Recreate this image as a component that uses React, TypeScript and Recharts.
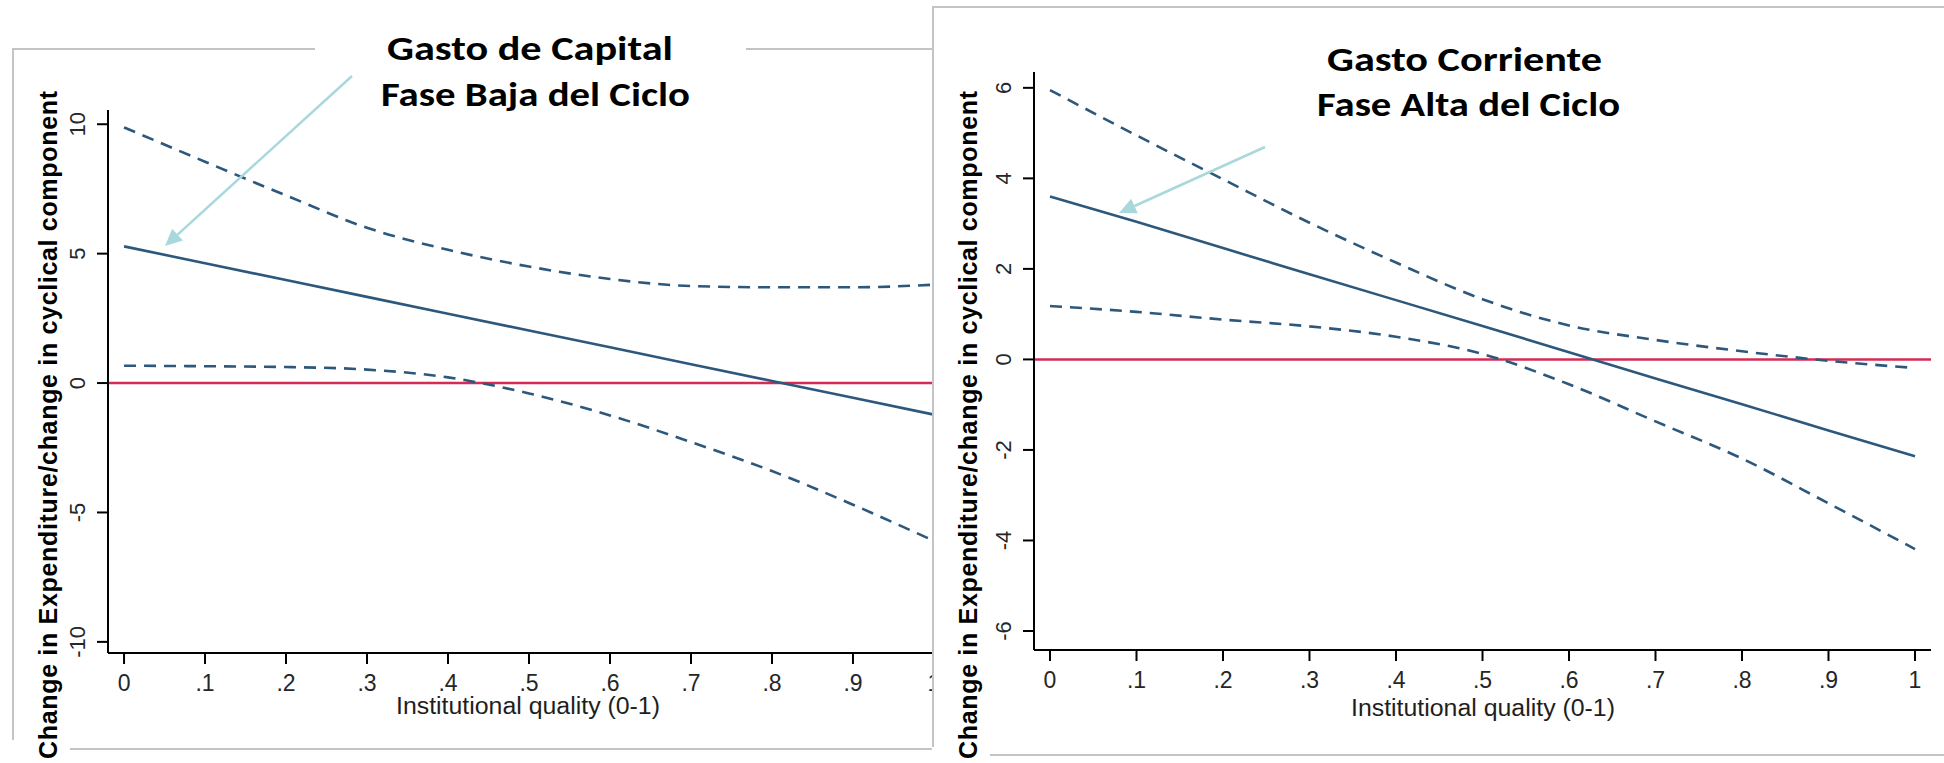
import React from "react";
import { LineChart, Line, XAxis, YAxis, ReferenceLine } from "recharts";

// institutional quality grid (x axis, 0-1)
const quality = [0, 0.1, 0.2, 0.3, 0.4, 0.5, 0.6, 0.7, 0.8, 0.9, 1];

// Gasto de Capital, fase baja del ciclo
const capitalFit = [5.28, 4.63, 3.98, 3.33, 2.68, 2.03, 1.38, 0.73, 0.08, -0.57, -1.22];
const capitalUpper = [9.88, 8.55, 7.25, 6.0, 5.15, 4.5, 4.02, 3.75, 3.7, 3.7, 3.8];
const capitalLower = [0.67, 0.65, 0.62, 0.52, 0.22, -0.4, -1.25, -2.28, -3.4, -4.7, -6.1];

// Gasto Corriente, fase alta del ciclo
const currentFit = [3.6, 3.04, 2.46, 1.88, 1.31, 0.74, 0.16, -0.42, -0.99, -1.57, -2.14];
const currentUpper = [5.95, 4.95, 3.98, 3.02, 2.14, 1.33, 0.75, 0.43, 0.18, -0.03, -0.19];
const currentLower = [1.18, 1.05, 0.88, 0.73, 0.5, 0.12, -0.55, -1.37, -2.19, -3.18, -4.19];

const qualityTicks = [0, 0.1, 0.2, 0.3, 0.4, 0.5, 0.6, 0.7, 0.8, 0.9, 1];
const capitalTicks = [-10, -5, 0, 5, 10];
const currentTicks = [-6, -4, -2, 0, 2, 4, 6];

const Y_TITLE = "Change in Expenditure/change in cyclical component";
const X_TITLE = "Institutional quality (0-1)";

const NAVY = "#2d587c";
const RED = "#d42b55";
const FRAME = "#c4c4c4";
const ARROW = "#a9d8dc";
const SANS = "'Liberation Sans', Arial, sans-serif";
const TITLE_FONT = "Carlito, Lato, 'Open Sans', sans-serif";

const capitalRows = quality.map((x, i) => ({ x, fit: capitalFit[i], hi: capitalUpper[i], lo: capitalLower[i] }));
const currentRows = quality.map((x, i) => ({ x, fit: currentFit[i], hi: currentUpper[i], lo: currentLower[i] }));

const fmtQuality = (v: number) => (v === 0 || v === 1 ? String(v) : String(v).replace(/^0/, ""));

function XTick(props: any) {
  const { x, y, payload } = props;
  return (
    <text x={x} y={y + 17} textAnchor="middle" dominantBaseline="central" fontSize={23} fill="#262626" fontFamily={SANS}>
      {fmtQuality(payload.value)}
    </text>
  );
}

function YTick(props: any) {
  const { x, y, payload } = props;
  const cx = x - 17;
  return (
    <text
      x={cx}
      y={y}
      transform={`rotate(-90 ${cx} ${y})`}
      textAnchor="middle"
      dominantBaseline="central"
      fontSize={22}
      fill="#262626"
      fontFamily={SANS}
    >
      {payload.value}
    </text>
  );
}

function Arrow({ x1, y1, x2, y2 }: { x1: number; y1: number; x2: number; y2: number }) {
  const a = Math.atan2(y2 - y1, x2 - x1);
  const bx = x2 - 17 * Math.cos(a);
  const by = y2 - 17 * Math.sin(a);
  const px = 8 * Math.sin(a);
  const py = -8 * Math.cos(a);
  return (
    <g>
      <line x1={x1} y1={y1} x2={bx} y2={by} stroke={ARROW} strokeWidth={2.5} />
      <polygon points={`${x2},${y2} ${bx + px},${by + py} ${bx - px},${by - py}`} fill={ARROW} />
    </g>
  );
}

function PanelText({ yTitle, xTitle, lines }: any) {
  return (
    <>
      <text
        x={yTitle.x}
        y={yTitle.y}
        transform={`rotate(-90 ${yTitle.x} ${yTitle.y})`}
        textAnchor="middle"
        dominantBaseline="central"
        fontSize={25}
        fontWeight={700}
        fontFamily={SANS}
        textLength={668}
        lengthAdjust="spacing"
        fill="#000"
      >
        {Y_TITLE}
      </text>
      <text x={xTitle.x} y={xTitle.y} textAnchor="middle" dominantBaseline="central" fontSize={23} fontFamily={SANS} fill="#1e1e1e" textLength={264} lengthAdjust="spacingAndGlyphs">
        {X_TITLE}
      </text>
      {lines.map((l: any) => (
        <text key={l.text} x={l.x} y={l.y} textAnchor="middle" fontSize={34} fontWeight={700} fontFamily={TITLE_FONT} textLength={l.w} lengthAdjust="spacingAndGlyphs" fill="#000">
          {l.text}
        </text>
      ))}
    </>
  );
}

function StataChart({ rows, width, height, margin, xDomain, yDomain, yTicks }: any) {
  return (
    <LineChart width={width} height={height} data={rows} margin={margin}>
      <XAxis
        type="number"
        dataKey="x"
        domain={xDomain}
        allowDataOverflow
        ticks={qualityTicks}
        interval={0}
        height={60}
        tickSize={11}
        tick={(p: any) => <XTick {...p} />}
        axisLine={{ stroke: "#000", strokeWidth: 2 }}
        tickLine={{ stroke: "#000", strokeWidth: 2 }}
      />
      <YAxis
        type="number"
        domain={yDomain}
        allowDataOverflow
        ticks={yTicks}
        interval={0}
        width={60}
        tickSize={11}
        tick={(p: any) => <YTick {...p} />}
        axisLine={{ stroke: "#000", strokeWidth: 2 }}
        tickLine={{ stroke: "#000", strokeWidth: 2 }}
      />
      <ReferenceLine y={0} stroke={RED} strokeWidth={2.5} />
      <Line type="monotone" dataKey="hi" stroke={NAVY} strokeWidth={2.6} strokeDasharray="12 8" dot={false} activeDot={false} isAnimationActive={false} />
      <Line type="linear" dataKey="fit" stroke={NAVY} strokeWidth={2.6} dot={false} activeDot={false} isAnimationActive={false} />
      <Line type="monotone" dataKey="lo" stroke={NAVY} strokeWidth={2.6} strokeDasharray="12 8" dot={false} activeDot={false} isAnimationActive={false} />
    </LineChart>
  );
}

export default function App() {
  return (
    <div style={{ position: "absolute", left: 0, top: 0, width: 1944, height: 763, background: "#fff", overflow: "hidden" }}>
      {/* left panel */}
      <svg width={960} height={763} style={{ position: "absolute", left: 0, top: 0 }}>
        <rect x={13} y={49} width={1000} height={700} fill="none" stroke={FRAME} strokeWidth={2} />
      </svg>
      <div style={{ position: "absolute", left: 0, top: 0 }}>
        <StataChart
          rows={capitalRows}
          width={960}
          height={763}
          margin={{ top: 110, right: 10, bottom: 50, left: 48 }}
          xDomain={[-0.0198, 1.0198]}
          yDomain={[-10.43, 10.55]}
          yTicks={capitalTicks}
        />
      </div>
      <svg width={960} height={763} style={{ position: "absolute", left: 0, top: 0 }}>
        <rect x={315} y={25} width={431} height={100} fill="#fff" />
        <rect x={5} y={740} width={65} height={23} fill="#fff" />
        <PanelText
          yTitle={{ x: 48, y: 425 }}
          xTitle={{ x: 528, y: 706 }}
          lines={[
            { text: "Gasto de Capital", x: 530, y: 60, w: 286 },
            { text: "Fase Baja del Ciclo", x: 535.5, y: 106, w: 309 },
          ]}
        />
        <Arrow x1={352} y1={76} x2={165} y2={246} />
      </svg>

      {/* right panel */}
      <div style={{ position: "absolute", left: 932, top: 6, width: 1012, height: 750, background: "#fff" }}>
        <svg width={1012} height={750} style={{ position: "absolute", left: 0, top: 0 }}>
          <rect x={1} y={1} width={1100} height={748} fill="none" stroke={FRAME} strokeWidth={2} />
        </svg>
        <div style={{ position: "absolute", left: 0, top: 0 }}>
          <StataChart
            rows={currentRows}
            width={1012}
            height={750}
            margin={{ top: 66, right: 13, bottom: 46, left: 42 }}
            xDomain={[-0.0185, 1.0185]}
            yDomain={[-6.42, 6.35]}
            yTicks={currentTicks}
          />
        </div>
        <svg width={1012} height={757} style={{ position: "absolute", left: 0, top: 0 }}>
          <rect x={-1} y={741} width={59} height={16} fill="#fff" />
          <PanelText
            yTitle={{ x: 36, y: 419 }}
            xTitle={{ x: 551, y: 702 }}
            lines={[
              { text: "Gasto Corriente", x: 532.5, y: 64.7, w: 275 },
              { text: "Fase Alta del Ciclo", x: 536.5, y: 109.7, w: 303 },
            ]}
          />
          <Arrow x1={333} y1={141} x2={187} y2={207} />
        </svg>
      </div>
    </div>
  );
}
